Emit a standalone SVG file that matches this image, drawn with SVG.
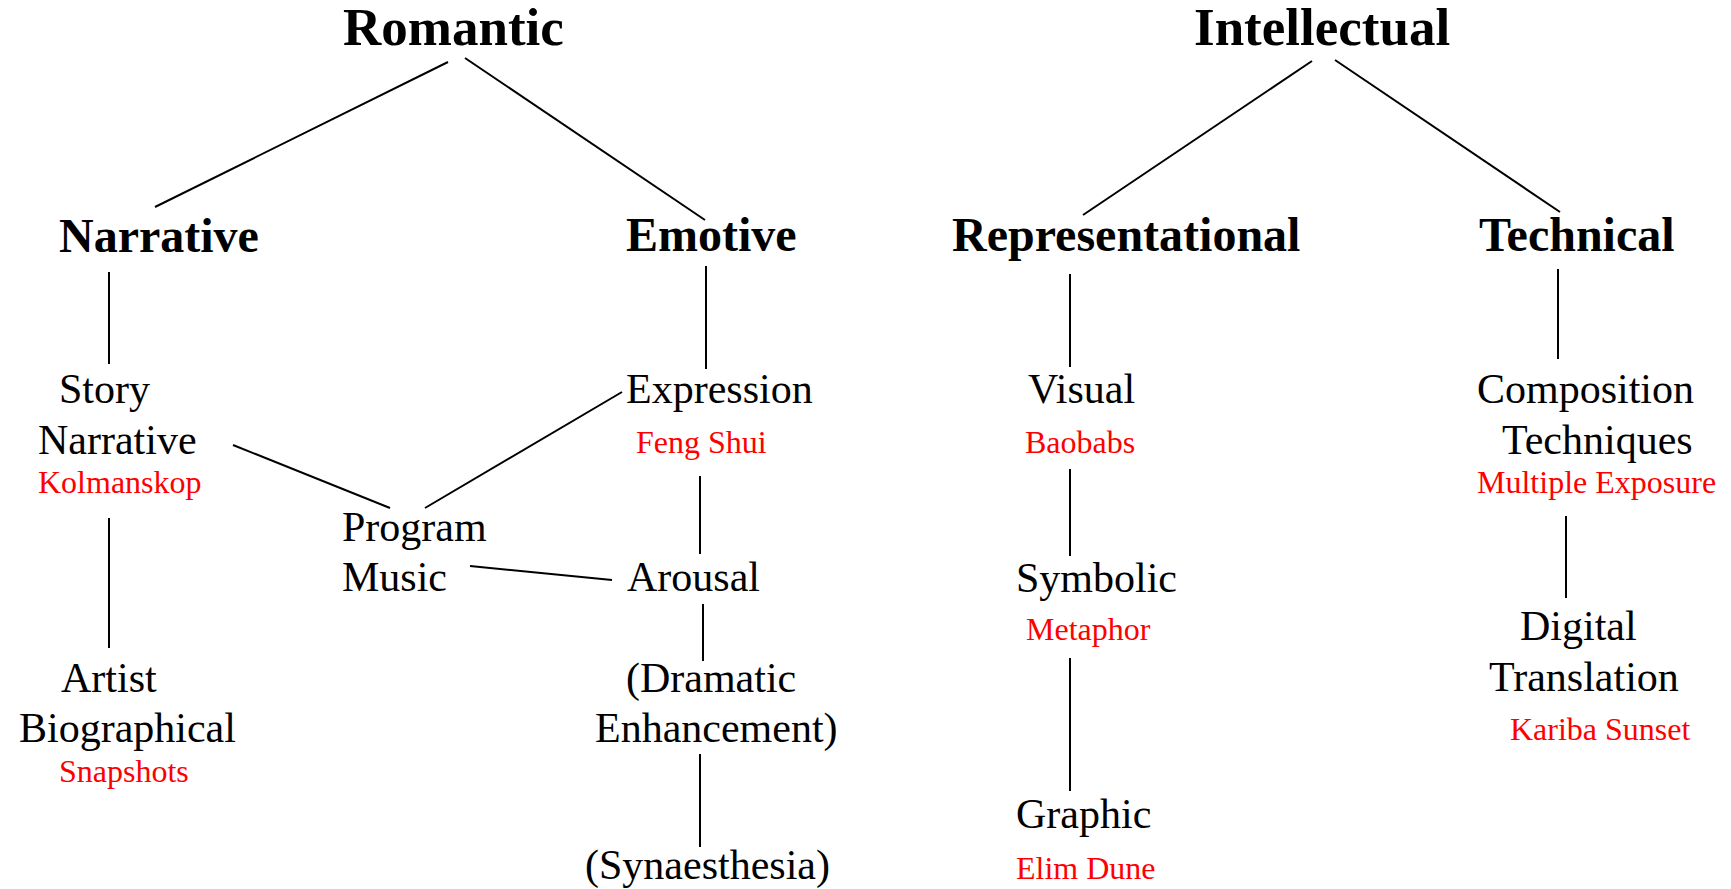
<svg xmlns="http://www.w3.org/2000/svg" width="1731" height="889" viewBox="0 0 1731 889">
<style>
.t1{font-family:"Liberation Serif","Times New Roman",serif;font-weight:bold;font-size:53px;fill:#000}
.t2{font-family:"Liberation Serif","Times New Roman",serif;font-weight:bold;font-size:48px;fill:#000}
.t3{font-family:"Liberation Serif","Times New Roman",serif;font-size:42px;fill:#000}
.r{font-family:"Liberation Serif","Times New Roman",serif;font-size:32px;fill:#ff0000}
.c line{stroke:#000;stroke-width:2;fill:none}
</style>
<rect width="1731" height="889" fill="#fff"/>
<g id="connectors" class="c">
<line x1="448" y1="62" x2="155" y2="207"/>
<line x1="465" y1="58" x2="705" y2="220"/>
<line x1="1312" y1="61" x2="1083" y2="215"/>
<line x1="1335" y1="60" x2="1560" y2="212"/>
<line x1="109" y1="272" x2="109" y2="364"/>
<line x1="706" y1="266" x2="706" y2="369"/>
<line x1="1070" y1="274" x2="1070" y2="367"/>
<line x1="1558" y1="269" x2="1558" y2="359"/>
<line x1="109" y1="518" x2="109" y2="648"/>
<line x1="233" y1="445" x2="390" y2="508"/>
<line x1="622" y1="392" x2="425" y2="508"/>
<line x1="700" y1="476" x2="700" y2="554"/>
<line x1="470" y1="566" x2="612" y2="580"/>
<line x1="703" y1="604" x2="703" y2="661"/>
<line x1="700" y1="754" x2="700" y2="847"/>
<line x1="1070" y1="469" x2="1070" y2="556"/>
<line x1="1070" y1="658" x2="1070" y2="791"/>
<line x1="1566" y1="516" x2="1566" y2="598"/>
</g>
<g id="romantic"><text class="t1" x="343" y="45">Romantic</text></g>
<g id="intellectual"><text class="t1" x="1194" y="45">Intellectual</text></g>
<g id="narrative"><text class="t2" x="59" y="252">Narrative</text></g>
<g id="emotive"><text class="t2" x="626" y="251">Emotive</text></g>
<g id="representational"><text class="t2" x="952" y="251">Representational</text></g>
<g id="technical"><text class="t2" x="1479" y="251">Technical</text></g>
<g id="story-narrative"><text class="t3" x="59" y="403">Story</text><text class="t3" x="38" y="454">Narrative</text><text class="r" x="38" y="493">Kolmanskop</text></g>
<g id="expression"><text class="t3" x="626" y="403">Expression</text><text class="r" x="636" y="453">Feng Shui</text></g>
<g id="program-music"><text class="t3" x="342" y="541">Program</text><text class="t3" x="342" y="591">Music</text></g>
<g id="arousal"><text class="t3" x="627" y="591">Arousal</text></g>
<g id="dramatic"><text class="t3" x="626" y="692">(Dramatic</text><text class="t3" x="595" y="742">Enhancement)</text></g>
<g id="synaesthesia"><text class="t3" x="585" y="879">(Synaesthesia)</text></g>
<g id="artist-biographical"><text class="t3" x="61" y="692">Artist</text><text class="t3" x="19" y="742">Biographical</text><text class="r" x="59" y="782">Snapshots</text></g>
<g id="visual"><text class="t3" x="1028" y="403">Visual</text><text class="r" x="1025" y="453">Baobabs</text></g>
<g id="symbolic"><text class="t3" x="1016" y="592">Symbolic</text><text class="r" x="1026" y="640">Metaphor</text></g>
<g id="graphic"><text class="t3" x="1016" y="828">Graphic</text><text class="r" x="1016" y="879">Elim Dune</text></g>
<g id="composition"><text class="t3" x="1477" y="403">Composition</text><text class="t3" x="1502" y="454">Techniques</text><text class="r" x="1477" y="493">Multiple Exposure</text></g>
<g id="digital"><text class="t3" x="1520" y="640">Digital</text><text class="t3" x="1489" y="691">Translation</text><text class="r" x="1510" y="740">Kariba Sunset</text></g>
</svg>
